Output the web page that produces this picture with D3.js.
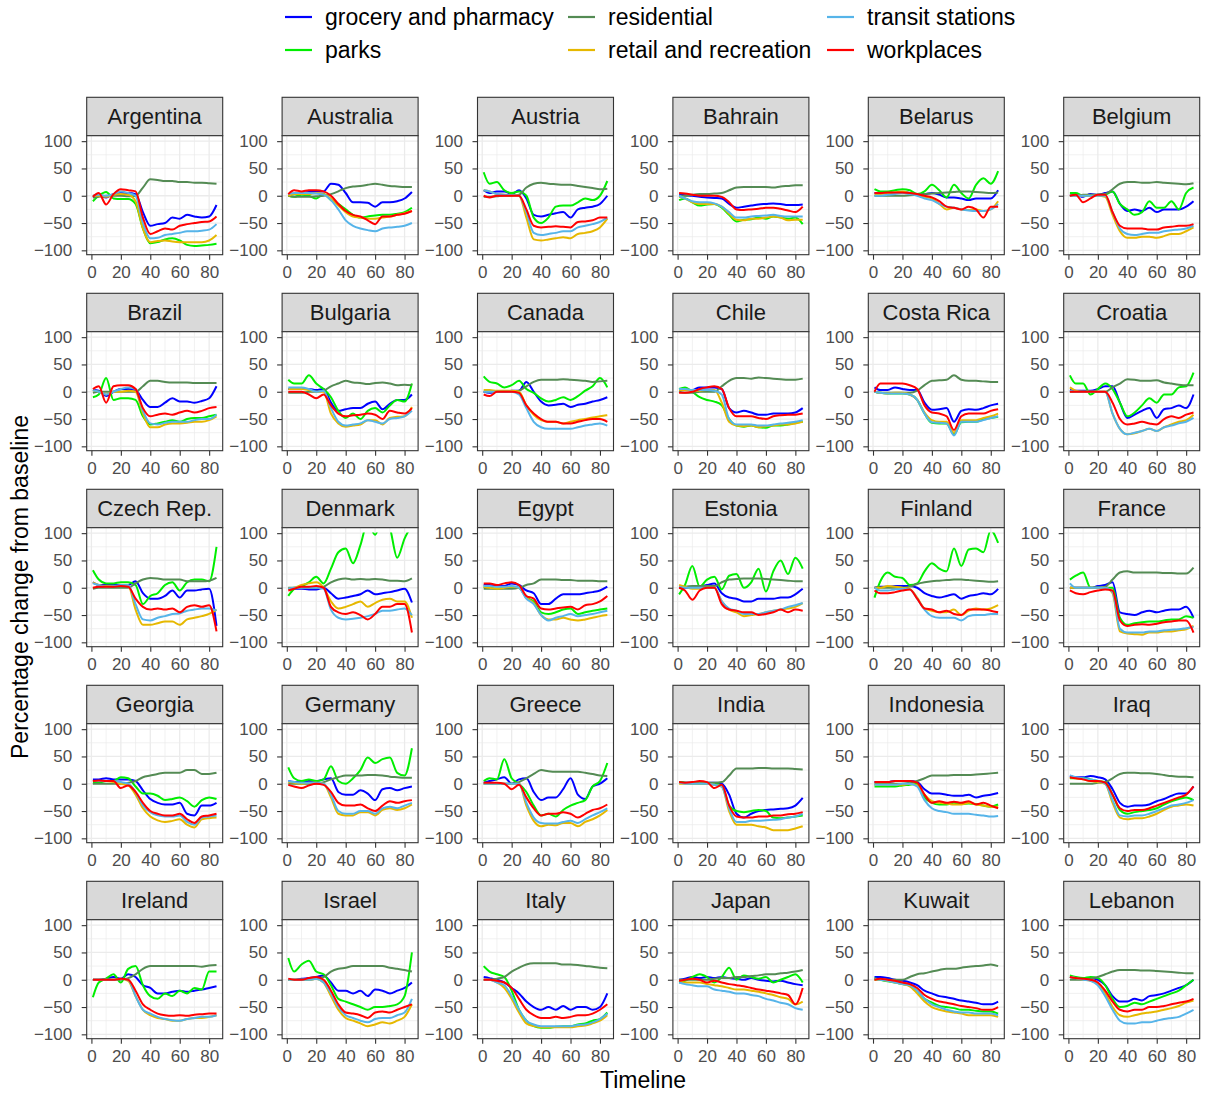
<!DOCTYPE html>
<html>
<head>
<meta charset="utf-8">
<title>Mobility change by country</title>
<script src="https://cdn.jsdelivr.net/npm/d3@7"></script>
<style>
body { margin: 0; background: #fff; }
svg text { font-family: "Liberation Sans", Arial, sans-serif; }
</style>
</head>
<body>
<svg id="chart" width="1206" height="1095"></svg>
<script>
var countries = ["Argentina", "Australia", "Austria", "Bahrain", "Belarus", "Belgium",
  "Brazil", "Bulgaria", "Canada", "Chile", "Costa Rica", "Croatia",
  "Czech Rep.", "Denmark", "Egypt", "Estonia", "Finland", "France",
  "Georgia", "Germany", "Greece", "India", "Indonesia", "Iraq",
  "Ireland", "Israel", "Italy", "Japan", "Kuwait", "Lebanon"];

var days = [1, 5, 10, 15, 20, 25, 30, 35, 40, 45, 50, 55, 60, 65, 70, 75, 80, 85];

// one row per country, values read at the days above
var grocery = [
  [-3,0,-3,3,5,5,3,-30,-55,-52,-50,-40,-42,-35,-38,-40,-38,-17],
  [2,3,5,7,8,8,22,20,5,-12,-12,-13,-20,-12,-12,-10,-5,7],
  [10,5,8,8,3,10,-5,-35,-38,-35,-32,-30,-40,-25,-22,-20,-15,0],
  [2,1,0,-2,-3,-4,-5,-15,-22,-20,-18,-16,-15,-14,-15,-17,-17,-16],
  [5,5,5,5,7,5,3,3,5,2,-3,-3,-5,-8,-5,-5,-5,10],
  [0,2,-2,3,2,5,8,-15,-28,-25,-28,-22,-30,-25,-25,-25,-20,-10],
  [3,2,-8,0,5,5,3,-15,-28,-28,-20,-12,-18,-18,-20,-17,-12,10],
  [5,5,5,5,3,5,-20,-35,-32,-30,-30,-22,-18,-32,-22,-15,-15,-5],
  [0,-2,0,0,2,2,18,0,-18,-25,-24,-22,-28,-24,-22,-18,-15,-10],
  [3,3,3,8,8,8,5,-30,-38,-35,-38,-42,-42,-40,-40,-40,-38,-30],
  [8,3,3,8,5,3,3,-20,-33,-32,-30,-55,-35,-32,-33,-30,-25,-22],
  [3,2,2,2,5,10,10,-20,-48,-42,-35,-30,-48,-32,-30,-25,-30,-5],
  [10,5,5,5,5,5,12,-10,-20,-20,-15,-5,-18,-5,-5,-3,-2,-70],
  [-2,-2,-2,-3,-3,0,-10,-20,-18,-15,-12,-5,-12,-10,-8,-5,-2,-27],
  [5,5,3,3,8,5,-5,-10,-30,-30,-20,-12,-12,-12,-10,-8,-5,2],
  [0,0,0,2,5,8,-10,-18,-20,-25,-25,-20,-20,-20,-18,-18,-12,-2],
  [0,2,2,3,3,3,0,-10,-15,-18,-15,-12,-20,-15,-13,-10,-12,-2],
  [0,0,0,0,3,5,10,-45,-48,-50,-45,-42,-45,-42,-40,-40,-35,-55],
  [8,8,10,8,8,8,5,-12,-28,-35,-38,-38,-35,-55,-58,-40,-40,-35],
  [5,3,3,5,5,8,10,-15,-20,-20,-12,-18,-30,-10,-8,-12,-8,-5],
  [2,5,8,12,0,8,10,-15,-30,-25,-25,-10,10,-20,-28,-5,0,10],
  [3,2,2,2,2,2,0,-20,-55,-62,-55,-50,-48,-47,-46,-45,-40,-26],
  [3,3,3,5,5,5,3,-10,-18,-18,-20,-22,-22,-20,-25,-22,-20,-17],
  [15,12,12,14,12,8,-10,-35,-42,-40,-40,-38,-32,-28,-22,-18,-18,-5],
  [0,0,2,5,2,10,5,-10,-15,-25,-25,-22,-20,-22,-20,-18,-15,-12],
  [0,0,2,3,5,8,-5,-20,-20,-25,-20,-30,-18,-20,-25,-20,-15,-5],
  [5,3,0,-5,-15,-25,-40,-50,-55,-50,-55,-48,-55,-50,-50,-55,-50,-25],
  [0,2,5,3,5,3,5,3,2,0,3,0,-2,-3,-2,-5,-8,-10],
  [5,5,3,0,-2,-5,-10,-20,-25,-30,-32,-35,-38,-40,-42,-45,-45,-40],
  [5,3,2,3,0,-10,-30,-40,-40,-35,-38,-30,-28,-25,-20,-15,-10,0]
];

var parks = [
  [-10,0,7,-5,-6,-6,-15,-60,-87,-85,-80,-78,-82,-90,-92,-91,-90,-88],
  [0,-2,2,0,-5,3,-8,-15,-25,-35,-40,-38,-36,-35,-35,-33,-30,-22],
  [43,22,25,10,5,8,0,-40,-50,-40,-20,-18,-18,-12,-5,-8,0,27],
  [-8,-5,-12,-18,-16,-15,-22,-35,-47,-44,-43,-40,-42,-38,-40,-42,-40,-52],
  [12,8,8,10,12,10,3,8,20,10,-3,20,5,-5,20,32,22,45],
  [5,5,0,0,2,2,8,-15,-25,-35,-30,-10,-22,-22,-10,-25,5,15],
  [-10,-5,25,-15,-12,-12,-15,-45,-60,-58,-55,-52,-55,-50,-48,-48,-45,-42],
  [22,15,15,30,15,5,-10,-35,-48,-40,-50,-35,-30,-38,-25,-15,-18,15],
  [28,18,15,8,12,20,5,-2,-12,-18,-15,-10,-15,-8,2,10,25,8],
  [5,8,0,-10,-15,-18,-25,-50,-62,-64,-62,-65,-66,-62,-62,-60,-57,-55],
  [0,-2,-3,-3,-3,-5,-15,-40,-57,-58,-58,-78,-56,-55,-55,-50,-48,-46],
  [30,15,15,-5,5,15,5,-20,-45,-38,-25,-12,-20,-5,-5,8,10,35],
  [32,15,8,8,10,10,5,-30,-15,-10,5,10,-5,10,15,15,12,75],
  [-15,-2,3,10,20,8,35,65,72,45,78,120,97,130,110,55,90,115],
  [2,0,-2,0,2,0,-18,-25,-45,-48,-45,-40,-38,-48,-45,-42,-40,-38],
  [-12,5,40,2,15,20,-3,22,25,0,10,35,-7,30,50,25,55,35],
  [-18,12,28,20,18,5,8,30,45,35,30,72,40,70,72,65,105,82],
  [15,22,28,0,0,0,0,-55,-68,-65,-63,-62,-62,-60,-58,-58,-52,-55],
  [2,2,5,5,12,10,-5,-18,-18,-22,-30,-28,-25,-32,-42,-30,-25,-28],
  [30,10,5,8,5,8,32,5,0,10,25,48,38,45,48,20,15,65],
  [5,10,8,45,10,0,-15,-40,-58,-55,-60,-48,-40,-35,-30,-5,5,38],
  [3,2,0,0,0,0,-3,-40,-50,-52,-50,-48,-50,-62,-63,-62,-60,-58],
  [-5,-5,-5,-5,-3,-2,0,-25,-35,-38,-38,-35,-37,-36,-37,-40,-42,-38],
  [10,10,10,8,5,3,-20,-48,-55,-52,-50,-48,-45,-38,-32,-28,-25,-30],
  [-32,-5,2,10,-5,20,25,-10,-30,-35,-25,-30,-20,-25,-15,-18,15,15],
  [40,15,28,35,15,10,-10,-35,-40,-45,-50,-55,-50,-50,-48,-45,-30,50],
  [25,15,10,5,-20,-55,-75,-85,-88,-88,-86,-85,-85,-82,-80,-75,-72,-60],
  [-5,-2,5,10,5,-5,5,22,0,8,5,2,5,-5,0,5,10,-5],
  [3,0,-3,-5,-8,-10,-20,-35,-42,-48,-50,-52,-55,-55,-57,-58,-58,-62],
  [8,5,3,5,3,-10,-35,-50,-48,-42,-45,-40,-35,-30,-25,-20,-10,0]
];

var residential = [
  [-3,-2,0,0,0,-1,0,15,30,29,27,27,25,25,24,24,23,22],
  [0,-2,-2,-2,-1,0,3,8,14,17,18,20,22,20,18,17,16,16],
  [-2,-2,-1,0,0,2,15,22,24,22,21,20,20,18,16,14,12,13],
  [0,0,2,3,3,4,5,10,15,16,16,16,16,15,17,18,19,19],
  [0,0,0,0,0,1,2,3,4,5,6,7,8,8,7,6,5,6],
  [0,0,2,2,2,3,12,22,25,25,24,24,25,24,23,22,21,23],
  [-2,0,0,0,0,0,0,10,20,20,18,17,17,17,16,16,16,16],
  [-2,-2,-2,0,0,2,10,15,20,17,16,14,16,17,15,12,13,12],
  [0,0,0,0,0,2,10,18,22,22,22,23,22,21,20,18,19,20],
  [0,-2,-2,0,0,0,10,20,25,25,24,26,25,24,23,22,22,24],
  [0,-2,-2,-2,-2,-2,2,12,20,21,22,30,22,20,20,19,18,18],
  [0,0,0,0,0,0,8,15,23,22,20,20,21,17,15,13,12,12],
  [-2,0,0,0,0,0,8,15,18,17,15,15,15,12,12,12,13,18],
  [0,0,0,0,0,2,10,15,17,15,16,15,16,15,13,13,12,17],
  [-2,-2,-2,-2,-2,0,5,8,15,15,15,14,14,13,13,13,12,12],
  [0,2,3,3,3,3,10,15,16,17,17,17,16,15,14,13,12,12],
  [0,0,0,0,0,2,7,10,12,13,14,15,15,14,13,12,11,12],
  [0,0,0,0,0,2,15,28,30,28,28,28,28,27,27,26,26,37],
  [0,0,0,0,0,2,5,12,15,18,20,20,20,25,25,18,18,20],
  [0,0,0,0,0,3,8,12,15,15,15,16,16,15,13,12,11,11],
  [0,0,0,0,0,3,10,18,25,23,22,22,22,22,20,18,15,14],
  [2,2,2,2,2,2,3,15,28,28,28,29,29,28,28,28,27,26],
  [0,0,0,0,0,2,5,10,15,15,15,16,16,16,17,18,19,20],
  [0,0,0,0,2,3,10,18,20,20,19,19,18,16,14,13,13,12],
  [0,0,0,0,0,3,10,20,25,25,25,25,25,25,25,24,26,27],
  [0,0,0,0,2,5,15,20,22,25,25,25,25,25,22,20,18,15],
  [0,0,2,5,15,22,28,30,30,30,30,28,28,27,25,24,22,21],
  [0,0,0,0,0,2,3,3,5,5,7,8,10,10,12,13,15,18],
  [0,0,0,0,0,5,10,12,15,18,20,20,22,24,25,26,28,25],
  [0,0,0,2,5,10,15,18,18,18,17,17,16,15,14,13,12,12]
];

var retail = [
  [0,0,-2,2,3,2,-10,-60,-85,-83,-82,-84,-85,-85,-85,-85,-82,-72],
  [0,3,3,3,5,3,-5,-18,-30,-38,-40,-42,-42,-40,-38,-35,-32,-28],
  [10,8,3,2,1,0,-40,-80,-82,-80,-78,-76,-78,-70,-68,-65,-58,-42],
  [-2,-5,-12,-15,-15,-15,-20,-33,-44,-45,-42,-42,-40,-38,-40,-45,-44,-44],
  [2,3,5,6,8,5,2,-2,-5,-15,-25,-22,-25,-26,-25,-28,-25,-10],
  [0,0,0,0,0,-2,-35,-65,-77,-77,-75,-75,-77,-74,-70,-70,-65,-58],
  [3,0,-5,0,0,2,0,-40,-65,-65,-60,-58,-58,-57,-55,-55,-52,-45],
  [5,5,5,3,0,0,-40,-58,-64,-62,-60,-52,-52,-60,-48,-46,-45,-28],
  [3,3,2,2,2,0,-25,-42,-52,-55,-55,-58,-55,-52,-50,-47,-45,-43],
  [3,3,2,2,3,3,-20,-55,-62,-63,-62,-65,-63,-62,-60,-60,-58,-55],
  [0,-2,-3,-2,-2,-5,-15,-38,-52,-55,-55,-75,-52,-52,-52,-48,-45,-40],
  [8,2,0,0,0,0,-40,-68,-78,-76,-72,-68,-72,-65,-60,-55,-52,-42],
  [10,5,3,3,3,3,-40,-68,-68,-65,-62,-62,-68,-58,-55,-52,-48,-40],
  [-2,0,5,8,10,0,-25,-38,-35,-30,-25,-35,-28,-22,-20,-25,-25,-55],
  [2,0,-2,0,2,0,-18,-28,-50,-58,-58,-55,-58,-60,-58,-55,-52,-50],
  [5,2,-2,-2,0,0,-25,-40,-45,-52,-50,-48,-45,-42,-40,-38,-35,-28],
  [0,0,3,2,0,-2,-18,-38,-42,-45,-45,-40,-50,-42,-38,-40,-38,-32],
  [0,0,0,0,0,0,-10,-80,-84,-85,-86,-82,-82,-80,-80,-78,-76,-70],
  [5,5,5,3,0,-3,-20,-45,-60,-67,-70,-68,-65,-75,-80,-65,-63,-62],
  [3,2,0,2,2,0,-25,-55,-58,-58,-52,-52,-58,-48,-45,-48,-45,-38],
  [0,0,0,0,0,0,-40,-68,-78,-75,-76,-72,-72,-78,-70,-65,-58,-48],
  [0,0,0,0,0,-2,-5,-50,-75,-75,-75,-78,-80,-85,-85,-85,-82,-78],
  [-2,-2,-2,-2,-2,0,-3,-20,-32,-35,-36,-38,-38,-35,-38,-40,-42,-42],
  [12,10,8,5,3,0,-35,-62,-65,-63,-63,-60,-55,-48,-42,-40,-38,-40],
  [0,0,0,0,2,-2,-30,-55,-65,-70,-72,-75,-75,-72,-70,-70,-68,-65],
  [0,0,0,0,2,-5,-30,-55,-70,-75,-80,-85,-82,-78,-80,-75,-68,-45],
  [0,0,-5,-15,-35,-60,-80,-85,-87,-87,-87,-87,-87,-85,-84,-80,-75,-65],
  [-2,-5,-5,-5,-8,-10,-12,-15,-18,-18,-20,-22,-25,-28,-32,-35,-45,-40],
  [0,0,-2,-5,-8,-12,-25,-40,-50,-55,-58,-60,-62,-65,-65,-65,-65,-68],
  [5,3,0,-2,-8,-25,-50,-65,-68,-65,-62,-60,-58,-55,-52,-48,-42,-38]
];

var transit = [
  [0,2,0,3,8,5,0,-50,-78,-77,-72,-70,-68,-65,-65,-64,-62,-52],
  [3,5,5,5,4,2,-8,-25,-45,-55,-60,-63,-65,-60,-58,-57,-55,-50],
  [10,8,3,2,1,0,-30,-68,-72,-70,-68,-65,-65,-58,-55,-52,-48,-40],
  [0,-5,-10,-12,-12,-14,-20,-30,-40,-40,-38,-37,-36,-35,-37,-38,-38,-38],
  [0,0,2,3,5,3,0,-5,-8,-15,-20,-22,-25,-27,-28,-28,-25,-15],
  [0,0,0,0,0,0,-30,-60,-70,-72,-70,-68,-68,-65,-63,-62,-60,-55],
  [3,0,-5,0,5,8,5,-35,-58,-60,-57,-55,-55,-55,-52,-50,-50,-42],
  [8,8,8,5,0,2,-30,-55,-62,-60,-58,-52,-55,-58,-50,-48,-45,-35],
  [0,0,0,0,0,-5,-30,-55,-65,-68,-68,-68,-68,-65,-62,-60,-58,-62],
  [5,5,3,3,3,2,-5,-50,-60,-60,-60,-62,-62,-60,-58,-57,-55,-52],
  [0,-2,-3,-3,-3,-5,-15,-40,-56,-57,-58,-80,-55,-55,-55,-52,-48,-45],
  [2,0,0,0,0,0,-40,-68,-78,-75,-72,-68,-72,-65,-62,-58,-55,-48],
  [8,5,2,3,5,5,-30,-58,-60,-55,-52,-48,-47,-42,-40,-38,-38,-42],
  [-2,0,0,0,0,-2,-40,-55,-58,-57,-55,-52,-48,-42,-42,-40,-38,-50],
  [3,3,2,2,3,0,-20,-30,-50,-60,-55,-52,-48,-52,-50,-48,-45,-42],
  [2,0,0,0,0,0,-25,-38,-42,-48,-48,-48,-45,-42,-40,-35,-32,-28],
  [0,-5,-5,-3,-2,-3,-20,-40,-52,-55,-55,-55,-60,-52,-50,-50,-48,-48],
  [8,0,0,0,0,0,-8,-75,-82,-82,-82,-80,-80,-78,-77,-76,-74,-72],
  [5,5,5,5,3,0,-15,-40,-52,-58,-60,-60,-58,-70,-75,-62,-60,-58],
  [5,3,2,2,2,0,-20,-50,-55,-55,-50,-50,-55,-45,-42,-45,-40,-35],
  [0,0,0,0,0,0,-35,-62,-72,-73,-73,-70,-68,-72,-65,-58,-52,-45],
  [2,0,0,0,0,-2,-5,-45,-70,-70,-68,-68,-67,-66,-65,-62,-60,-55],
  [-2,-2,-2,-2,0,0,-5,-30,-45,-50,-52,-55,-55,-55,-57,-58,-60,-59],
  [15,12,10,8,5,0,-30,-58,-60,-58,-58,-55,-50,-45,-40,-38,-35,-30],
  [0,0,0,0,2,0,-30,-55,-62,-68,-72,-74,-75,-72,-70,-68,-68,-65],
  [0,0,0,0,2,-5,-25,-50,-65,-70,-75,-78,-72,-70,-70,-65,-60,-35],
  [0,0,-5,-10,-30,-55,-75,-82,-85,-85,-85,-85,-85,-83,-82,-78,-72,-62],
  [-5,-8,-10,-12,-12,-18,-20,-22,-25,-25,-28,-30,-35,-38,-42,-45,-52,-55],
  [2,0,-2,-5,-8,-10,-20,-35,-45,-50,-55,-58,-60,-60,-62,-62,-62,-65],
  [5,3,0,-2,-10,-30,-55,-75,-80,-80,-78,-78,-75,-72,-70,-68,-62,-55]
];

var workplaces = [
  [-2,5,-16,3,12,10,8,-40,-70,-65,-60,-62,-55,-52,-50,-48,-47,-38],
  [3,10,8,10,10,8,0,-15,-28,-35,-38,-45,-52,-38,-38,-35,-33,-28],
  [0,-3,0,0,0,0,-25,-55,-58,-57,-56,-57,-58,-48,-47,-45,-40,-40],
  [5,4,2,0,0,0,-2,-12,-25,-26,-25,-24,-22,-22,-24,-27,-30,-20],
  [5,5,6,6,6,5,3,0,-3,-10,-20,-22,-25,-20,-25,-40,-20,-20],
  [0,2,-12,-5,2,2,-30,-55,-60,-60,-60,-62,-62,-58,-57,-55,-55,-52],
  [5,10,-20,10,12,12,5,-30,-45,-42,-40,-42,-38,-35,-38,-35,-30,-28],
  [0,0,0,-5,-12,-5,-25,-40,-45,-43,-42,-40,-42,-50,-35,-38,-40,-30],
  [-5,-8,0,0,0,-2,-25,-40,-50,-55,-55,-58,-58,-55,-52,-50,-50,-55],
  [-2,-2,0,5,8,10,5,-30,-45,-45,-45,-48,-50,-45,-43,-42,-42,-40],
  [0,15,15,15,15,12,5,-25,-38,-40,-45,-70,-45,-40,-40,-40,-35,-32],
  [0,0,0,0,0,0,-20,-50,-60,-58,-55,-58,-60,-50,-45,-48,-42,-38],
  [0,2,2,2,3,2,-20,-35,-40,-38,-40,-38,-45,-35,-32,-35,-32,-80],
  [-5,-2,2,2,3,0,-35,-45,-48,-45,-50,-58,-48,-35,-35,-30,-30,-82],
  [8,8,5,8,10,5,-15,-20,-38,-40,-38,-36,-35,-40,-32,-30,-25,-15],
  [0,-5,-22,-5,0,0,-30,-40,-42,-45,-45,-50,-48,-45,-40,-45,-40,-42],
  [-5,-10,-10,-8,-5,-3,-20,-38,-40,-45,-42,-48,-50,-40,-40,-40,-42,-45],
  [-5,-10,-12,-8,-5,-3,-5,-60,-70,-68,-67,-68,-66,-63,-62,-60,-60,-82],
  [5,6,5,5,-8,-3,-15,-35,-50,-55,-58,-58,-55,-65,-72,-60,-58,-55],
  [-2,-5,-8,-3,0,-2,-15,-35,-40,-40,-38,-45,-50,-40,-32,-35,-32,-30],
  [2,2,2,0,-10,-2,-25,-45,-58,-55,-55,-52,-55,-62,-55,-48,-45,-38],
  [3,2,3,5,3,-8,-2,-40,-60,-62,-62,-60,-60,-58,-58,-56,-55,-52],
  [3,3,3,5,5,5,2,-20,-35,-32,-35,-33,-35,-32,-38,-35,-40,-45],
  [12,10,8,5,5,2,-20,-45,-50,-48,-48,-45,-40,-35,-30,-25,-20,-5],
  [0,0,0,0,2,0,-20,-45,-55,-62,-65,-66,-65,-66,-64,-63,-62,-62],
  [2,0,0,3,5,0,-20,-45,-60,-62,-65,-70,-60,-58,-60,-55,-50,-45],
  [0,0,-2,-5,-15,-35,-55,-65,-70,-70,-68,-70,-68,-65,-65,-62,-55,-45],
  [-2,0,2,0,-5,-2,-5,-8,-10,-12,-15,-18,-20,-22,-25,-28,-45,-15],
  [0,2,0,-2,-5,-8,-15,-28,-35,-40,-42,-45,-48,-50,-52,-55,-55,-50],
  [5,3,2,0,-5,-20,-40,-55,-58,-55,-55,-50,-50,-48,-45,-42,-40,-35]
];

var categories = ["grocery and pharmacy", "parks", "residential",
  "retail and recreation", "transit stations", "workplaces"];
var colours = ["#0000FF", "#00EE00", "#548B54", "#E6B800", "#56B4E9", "#FF0000"];
var yTicks = [-100, -50, 0, 50, 100];
var xTicks = [0, 20, 40, 60, 80];

var seriesValues = [grocery, parks, residential, retail, transit, workplaces];

var svg = d3.select("#chart");

// facet layout
var left0 = 86.7, colStep = 195.4, panelW = 136;
var top0 = 97.3, rowStep = 196, stripH = 38.4, plotH = 119;

var x = d3.scaleLinear().domain([-3.2, 89.2]).range([0, panelW]);
var y = d3.scaleLinear().domain([-108, 110]).range([plotH, 0]);

var line = d3.line()
  .x(function(d) { return x(d[0]); })
  .y(function(d) { return y(d[1]); })
  .curve(d3.curveMonotoneX);

countries.forEach(function(name, i) {
  var col = i % 6, row = Math.floor(i / 6);
  var g = svg.append("g")
    .attr("transform", "translate(" + (left0 + col * colStep) + "," + (top0 + row * rowStep) + ")");

  // strip
  g.append("rect")
    .attr("width", panelW).attr("height", stripH)
    .attr("fill", "#D9D9D9").attr("stroke", "#333333").attr("stroke-width", 1.1);
  g.append("text")
    .attr("x", panelW / 2).attr("y", stripH / 2 + 7.6)
    .attr("text-anchor", "middle")
    .attr("font-size", 22).attr("fill", "#1A1A1A")
    .text(name);

  var p = g.append("g").attr("transform", "translate(0," + stripH + ")");
  p.append("rect").attr("width", panelW).attr("height", plotH).attr("fill", "#fff");

  // grid
  var minorX = [10, 30, 50, 70], minorY = [-75, -25, 25, 75];
  p.selectAll("line.mx").data(minorX).enter().append("line")
    .attr("x1", x).attr("x2", x).attr("y1", 0).attr("y2", plotH)
    .attr("stroke", "#EBEBEB").attr("stroke-width", 0.7);
  p.selectAll("line.my").data(minorY).enter().append("line")
    .attr("y1", y).attr("y2", y).attr("x1", 0).attr("x2", panelW)
    .attr("stroke", "#EBEBEB").attr("stroke-width", 0.7);
  p.selectAll("line.gx").data(xTicks).enter().append("line")
    .attr("x1", x).attr("x2", x).attr("y1", 0).attr("y2", plotH)
    .attr("stroke", "#EBEBEB").attr("stroke-width", 1.3);
  p.selectAll("line.gy").data(yTicks).enter().append("line")
    .attr("y1", y).attr("y2", y).attr("x1", 0).attr("x2", panelW)
    .attr("stroke", "#EBEBEB").attr("stroke-width", 1.3);

  // lines, clipped to the [-100, 100] window
  var clipId = "clip" + i;
  p.append("clipPath").attr("id", clipId)
    .append("rect").attr("x", 0).attr("y", y(101))
    .attr("width", panelW).attr("height", plotH - y(101));
  var lg = p.append("g").attr("clip-path", "url(#" + clipId + ")");
  seriesValues.forEach(function(series, k) {
    var pts = days.map(function(d, j) { return [d, series[i][j]]; });
    lg.append("path")
      .datum(pts)
      .attr("d", line)
      .attr("fill", "none")
      .attr("stroke", colours[k])
      .attr("stroke-width", 2)
      .attr("stroke-linejoin", "round");
  });

  p.append("rect").attr("width", panelW).attr("height", plotH)
    .attr("fill", "none").attr("stroke", "#333333").attr("stroke-width", 1.1);

  // axes
  var ya = p.append("g").call(d3.axisLeft(y).tickValues(yTicks).tickSize(5).tickPadding(9.5));
  var xa = p.append("g").attr("transform", "translate(0," + plotH + ")")
    .call(d3.axisBottom(x).tickValues(xTicks).tickSize(5).tickPadding(6.5));
  [ya, xa].forEach(function(a) {
    a.select(".domain").remove();
    a.selectAll(".tick line").attr("stroke", "#333333").attr("stroke-width", 1.1);
    a.selectAll(".tick text").attr("fill", "#4D4D4D")
      .attr("font-size", 17).attr("font-family", "Liberation Sans, Arial, sans-serif");
  });
});

// axis titles
svg.append("text")
  .attr("transform", "translate(28,587) rotate(-90)")
  .attr("text-anchor", "middle").attr("font-size", 23).attr("fill", "#000")
  .text("Percentage change from baseline");
svg.append("text")
  .attr("x", 643).attr("y", 1088)
  .attr("text-anchor", "middle").attr("font-size", 23).attr("fill", "#000")
  .text("Timeline");

// legend, filled column by column
var legendX = [285, 568, 827];
var legendY = [17, 50];
var leg = svg.append("g");
categories.forEach(function(c, k) {
  var lx = legendX[Math.floor(k / 2)], ly = legendY[k % 2];
  leg.append("line")
    .attr("x1", lx).attr("x2", lx + 27).attr("y1", ly).attr("y2", ly)
    .attr("stroke", colours[k]).attr("stroke-width", 2.2);
  leg.append("text")
    .attr("x", lx + 40).attr("y", ly + 8)
    .attr("font-size", 23).attr("fill", "#000")
    .text(c);
});
</script>
</body>
</html>
